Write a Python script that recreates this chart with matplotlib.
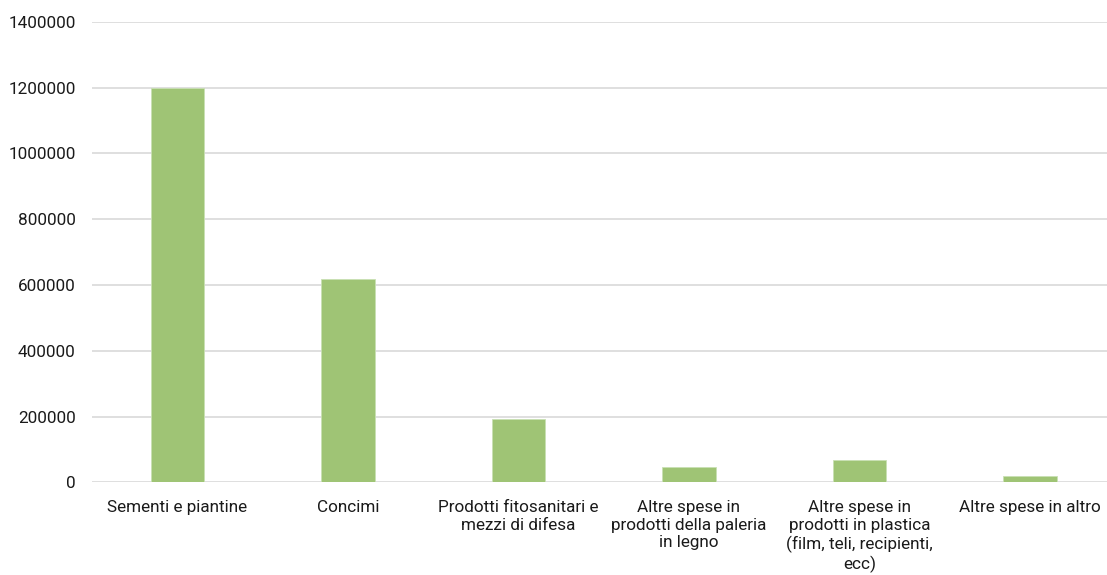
import matplotlib
matplotlib.use("Agg")
import matplotlib.pyplot as plt
import numpy as np

# categorie e valori
categories = [
    "Sementi e piantine",
    "Concimi",
    "Prodotti fitosanitari e\nmezzi di difesa",
    "Altre spese in\nprodotti della paleria\nin legno",
    "Altre spese in\nprodotti in plastica\n(film, teli, recipienti,\necc)",
    "Altre spese in altro",
]
values = [1200000, 617000, 193000, 48000, 67000, 20000]
y_ticks = [0, 200000, 400000, 600000, 800000, 1000000, 1200000, 1400000]

plt.rcParams['font.family'] = ['Roboto', 'DejaVu Sans']

fig = plt.figure(figsize=(11.07, 5.75), dpi=100)
ax = fig.add_axes([0.0833, 0.161, 0.924, 0.801])

x = np.arange(len(categories))
ax.bar(x, values, width=0.315, color='#9fc475', edgecolor='#c9e0b4', linewidth=0.6, zorder=3)

ax.set_xlim(-0.5, len(categories) - 0.5)
ax.set_ylim(0, 1400000)
ax.set_yticks(y_ticks)
ax.set_yticklabels([str(v) for v in y_ticks], fontsize=12.3, color='#1a1a1a')
ax.set_xticks(x)
ax.set_xticklabels(categories, fontsize=12.3, color='#1a1a1a', linespacing=1.2)
ax.tick_params(axis='both', length=0)
ax.tick_params(axis='y', pad=12)
ax.tick_params(axis='x', pad=13)

ax.grid(axis='y', color='#d9d9d9', linewidth=1.2, zorder=0)
for s in ax.spines.values():
    s.set_visible(False)

fig.savefig("out.png", dpi=100)
